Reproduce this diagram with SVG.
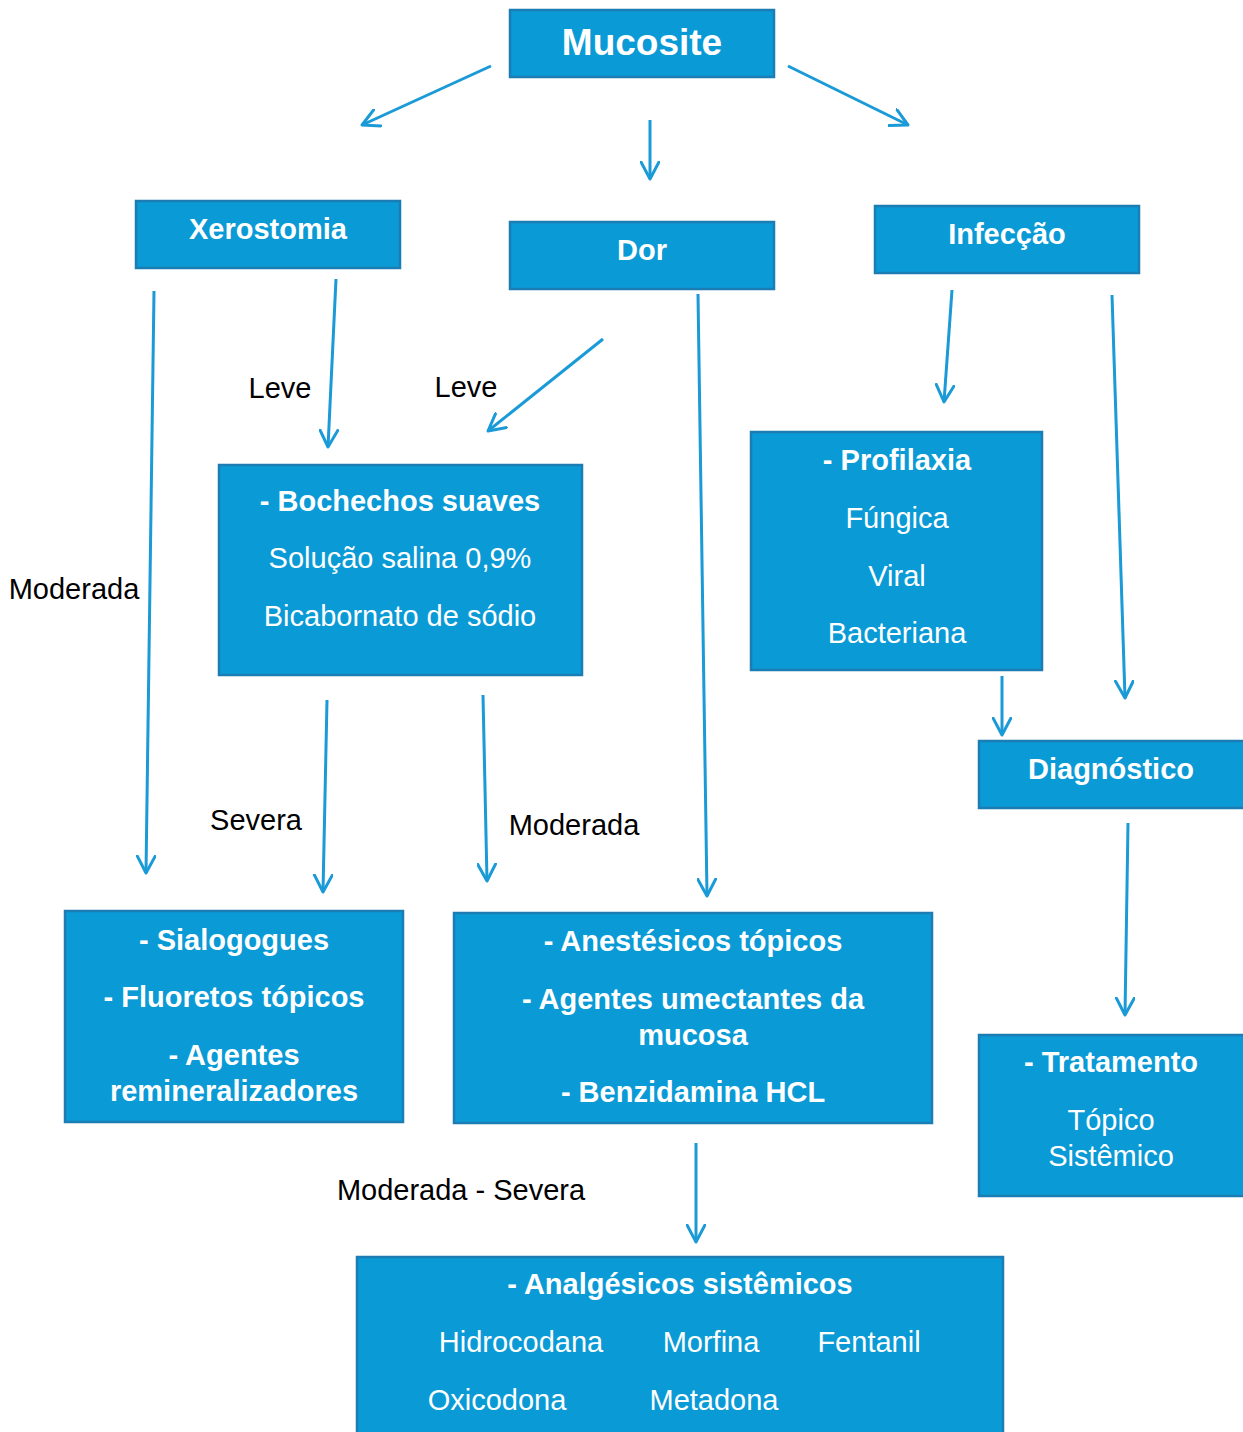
<svg xmlns="http://www.w3.org/2000/svg" width="1243" height="1432" viewBox="0 0 1243 1432">
<defs>
<marker id="ah" viewBox="0 0 20 20" refX="18" refY="10" markerWidth="20" markerHeight="20" markerUnits="userSpaceOnUse" orient="auto">
<path d="M1,1 L18,10 L1,19" fill="none" stroke="#1a9ad6" stroke-width="3" stroke-linecap="round" stroke-linejoin="round"/>
</marker>
<style>
.box{fill:#0a9ad6;stroke:#1b7db3;stroke-width:2.5}
.t{font-family:"Liberation Sans",Arial,sans-serif;fill:#fff;text-anchor:middle;font-size:29px}
.b{font-weight:bold}
.lbl{font-family:"Liberation Sans",Arial,sans-serif;fill:#000;text-anchor:middle;font-size:29px}
.c line{stroke:#1a9ad6;stroke-width:3;marker-end:url(#ah)}
</style>
</defs>
<rect width="1243" height="1432" fill="#fff"/>
<g id="mucosite"><rect class="box" x="510" y="10" width="264" height="67"/><text class="t b" x="642" y="55" style="font-size:37px">Mucosite</text></g>
<g id="xerostomia"><rect class="box" x="136" y="201" width="264" height="67"/><text class="t b" x="268" y="239">Xerostomia</text></g>
<g id="dor"><rect class="box" x="510" y="222" width="264" height="67"/><text class="t b" x="642" y="260">Dor</text></g>
<g id="infeccao"><rect class="box" x="875" y="206" width="264" height="67"/><text class="t b" x="1007" y="244">Infecção</text></g>
<g id="bochechos"><rect class="box" x="219" y="465" width="363" height="210"/>
<text class="t b" x="400" y="511">- Bochechos suaves</text>
<text class="t" x="400" y="568">Solução salina 0,9%</text>
<text class="t" x="400" y="626">Bicabornato de sódio</text></g>
<g id="profilaxia"><rect class="box" x="751" y="432" width="291" height="238"/>
<text class="t b" x="897" y="470">- Profilaxia</text>
<text class="t" x="897" y="528">Fúngica</text>
<text class="t" x="897" y="586">Viral</text>
<text class="t" x="897" y="643">Bacteriana</text></g>
<g id="diagnostico"><rect class="box" x="979" y="741" width="266" height="67"/><text class="t b" x="1111" y="779">Diagnóstico</text></g>
<g id="sialogogues"><rect class="box" x="65" y="911" width="338" height="211"/>
<text class="t b" x="234" y="950">- Sialogogues</text>
<text class="t b" x="234" y="1007">- Fluoretos tópicos</text>
<text class="t b" x="234" y="1065">- Agentes</text>
<text class="t b" x="234" y="1101">remineralizadores</text></g>
<g id="anestesicos"><rect class="box" x="454" y="913" width="478" height="210"/>
<text class="t b" x="693" y="951">- Anestésicos tópicos</text>
<text class="t b" x="693" y="1009">- Agentes umectantes da</text>
<text class="t b" x="693" y="1045">mucosa</text>
<text class="t b" x="693" y="1102">- Benzidamina HCL</text></g>
<g id="tratamento"><rect class="box" x="979" y="1035" width="266" height="161"/>
<text class="t b" x="1111" y="1072">- Tratamento</text>
<text class="t" x="1111" y="1130">Tópico</text>
<text class="t" x="1111" y="1166">Sistêmico</text></g>
<g id="analgesicos"><rect class="box" x="357" y="1257" width="646" height="190"/>
<text class="t b" x="680" y="1294">- Analgésicos sistêmicos</text>
<text class="t" x="521" y="1352">Hidrocodana</text>
<text class="t" x="711" y="1352">Morfina</text>
<text class="t" x="869" y="1352">Fentanil</text>
<text class="t" x="497" y="1410">Oxicodona</text>
<text class="t" x="714" y="1410">Metadona</text></g>
<g id="labels">
<text class="lbl" x="280" y="398">Leve</text>
<text class="lbl" x="466" y="397">Leve</text>
<text class="lbl" x="74" y="599">Moderada</text>
<text class="lbl" x="256" y="830">Severa</text>
<text class="lbl" x="574" y="835">Moderada</text>
<text class="lbl" x="461" y="1200">Moderada - Severa</text>
</g>
<g class="c" id="connectors">
<line x1="491" y1="66" x2="362" y2="125"/>
<line x1="650" y1="120" x2="650" y2="179"/>
<line x1="788" y1="66" x2="908" y2="125"/>
<line x1="154" y1="291" x2="146" y2="873"/>
<line x1="336" y1="279" x2="328" y2="447"/>
<line x1="603" y1="339" x2="488" y2="431"/>
<line x1="698" y1="294" x2="707" y2="896"/>
<line x1="952" y1="290" x2="944" y2="402"/>
<line x1="1112" y1="295" x2="1125" y2="698"/>
<line x1="1002" y1="676" x2="1002" y2="735"/>
<line x1="327" y1="700" x2="323" y2="892"/>
<line x1="483" y1="695" x2="487" y2="881"/>
<line x1="1128" y1="823" x2="1125" y2="1015"/>
<line x1="696" y1="1143" x2="696" y2="1242"/>
</g>
</svg>
